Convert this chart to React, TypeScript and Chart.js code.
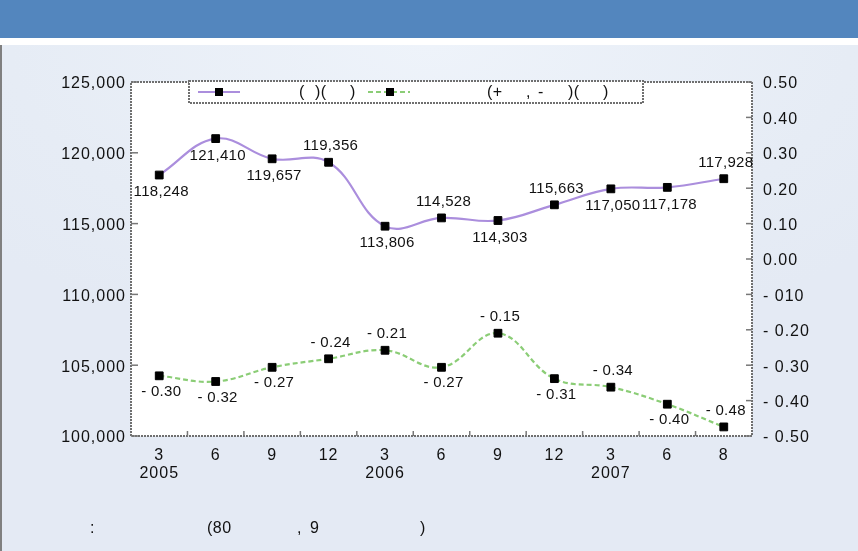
import React, { useEffect, useRef } from 'react';
import { Chart, registerables } from 'chart.js';

Chart.register(...registerables);

// ---- data ----
const monthLabels = ['3', '6', '9', '12', '3', '6', '9', '12', '3', '6', '8'];
const yearLabels = ['2005', '', '', '', '2006', '', '', '', '2007', '', ''];
const employedValues = [118248, 121410, 119657, 119356, 113806, 114528, 114303, 115663, 117050, 117178, 117928];
const growthValues = [-0.30, -0.32, -0.27, -0.24, -0.21, -0.27, -0.15, -0.31, -0.34, -0.40, -0.48];
const employedLabelSide = ['below', 'below', 'below', 'above', 'below', 'above', 'below', 'above', 'below', 'below', 'above'];
const growthLabelSide = ['below', 'below', 'below', 'above', 'above', 'below', 'above', 'below', 'above', 'below', 'above'];
const rightTickLabels = ['- 0.50', '- 0.40', '- 0.30', '- 0.20', '- 010', '0.00', '0.10', '0.20', '0.30', '0.40', '0.50'];
const legendFragments: [string, number][] = [['(', 299], [')(', 315], [')', 350], ['(+', 487], [',', 526], ['-', 538], [')(', 568], [')', 603]];
const noteFragments: [string, number][] = [[':', 90], ['(80', 207], [',', 297], ['9', 310], [')', 420]];

const FONT = "'Liberation Sans', Arial, sans-serif";
const EMP_COLOR = '#ab8edd';
const GROW_COLOR = '#8bcd76';

function fmtEmp(v: number) {
  return v.toLocaleString('en-US');
}
function fmtGrowth(v: number) {
  return (v < 0 ? '- ' : '') + Math.abs(v).toFixed(2);
}

const decor = {
  id: 'decor',
  beforeDraw(chart: any) {
    const { ctx, chartArea: a } = chart;
    ctx.save();
    ctx.fillStyle = '#ffffff';
    ctx.fillRect(a.left, a.top, a.right - a.left, a.bottom - a.top);
    ctx.restore();
    // axis labels: slightly spaced and nudged down to sit centred on their ticks
    ctx.save();
    ctx.translate(0, 2);
    ctx.letterSpacing = '1px';
  },
  beforeDatasetsDraw(chart: any) {
    chart.ctx.restore();
  },
  afterDatasetsDraw(chart: any) {
    const { ctx, chartArea: a, scales } = chart;
    ctx.save();
    ctx.strokeStyle = '#6f6f6f';
    ctx.lineWidth = 2;
    ctx.setLineDash([2, 1]);
    ctx.strokeRect(a.left, a.top, a.right - a.left, a.bottom - a.top);
    ctx.setLineDash([]);
    ctx.lineWidth = 1.5;
    ctx.strokeStyle = '#777';
    const yl = scales.y;
    yl.ticks.forEach((t: any) => {
      const y = yl.getPixelForValue(t.value);
      ctx.beginPath();
      ctx.moveTo(a.left, y);
      ctx.lineTo(a.left + 7, y);
      ctx.stroke();
    });
    const yr = scales.y2;
    yr.ticks.forEach((t: any) => {
      const y = yr.getPixelForValue(t.value);
      ctx.beginPath();
      ctx.moveTo(a.right - 6, y);
      ctx.lineTo(a.right, y);
      ctx.stroke();
    });
    const xs = scales.x;
    for (let i = 1; i < monthLabels.length; i++) {
      const x = (xs.getPixelForTick(i - 1) + xs.getPixelForTick(i)) / 2;
      ctx.beginPath();
      ctx.moveTo(x, a.bottom);
      ctx.lineTo(x, a.bottom - 5);
      ctx.stroke();
    }
    // data labels
    ctx.letterSpacing = '0.3px';
    ctx.fillStyle = '#111';
    ctx.font = `15px ${FONT}`;
    ctx.textAlign = 'center';
    ctx.textBaseline = 'middle';
    const m0 = chart.getDatasetMeta(0);
    m0.data.forEach((p: any, i: number) => {
      const dy = employedLabelSide[i] === 'above' ? -16 : 17;
      ctx.fillText(fmtEmp(employedValues[i]), p.x + 2, p.y + dy);
    });
    const m1 = chart.getDatasetMeta(1);
    m1.data.forEach((p: any, i: number) => {
      const dy = growthLabelSide[i] === 'above' ? -16 : 16;
      ctx.fillText(fmtGrowth(growthValues[i]), p.x + 2, p.y + dy);
    });
    ctx.restore();
  },
  afterDraw(chart: any) {
    const { ctx } = chart;
    ctx.save();
    ctx.letterSpacing = '0.5px';
    ctx.fillStyle = '#ffffff';
    ctx.fillRect(189, 81, 454, 22);
    ctx.strokeStyle = '#6f6f6f';
    ctx.lineWidth = 2;
    ctx.setLineDash([2, 1]);
    ctx.strokeRect(189, 81, 454, 22);
    ctx.setLineDash([]);
    const ly = 92;
    ctx.strokeStyle = EMP_COLOR;
    ctx.lineWidth = 2;
    ctx.beginPath();
    ctx.moveTo(198, ly);
    ctx.lineTo(240, ly);
    ctx.stroke();
    ctx.fillStyle = '#000';
    ctx.fillRect(215, ly - 4, 8, 8);
    ctx.strokeStyle = GROW_COLOR;
    ctx.setLineDash([5, 3]);
    ctx.beginPath();
    ctx.moveTo(368, ly);
    ctx.lineTo(410, ly);
    ctx.stroke();
    ctx.setLineDash([]);
    ctx.fillRect(386, ly - 4, 8, 8);
    ctx.fillStyle = '#111';
    ctx.font = `16px ${FONT}`;
    ctx.textAlign = 'left';
    ctx.textBaseline = 'middle';
    legendFragments.forEach(([t, x]) => ctx.fillText(t, x, ly + 1));
    noteFragments.forEach(([t, x]) => ctx.fillText(t, x, 529));
    ctx.restore();
  },
};

export default function App() {
  const ref = useRef<HTMLCanvasElement | null>(null);
  useEffect(() => {
    if (!ref.current) return;
    const point = {
      pointStyle: 'rect',
      pointRadius: 5.5,
      pointBackgroundColor: '#000',
      pointBorderColor: '#000',
      pointBorderWidth: 1,
    };
    const chart = new Chart(ref.current, {
      type: 'line',
      data: {
        labels: monthLabels.map((m, i) => (yearLabels[i] ? [m, yearLabels[i]] : m)),
        datasets: [
          {
            data: employedValues,
            yAxisID: 'yE',
            borderColor: EMP_COLOR,
            borderWidth: 2.2,
            tension: 0.4,
            ...point,
          },
          {
            data: growthValues,
            yAxisID: 'yG',
            borderColor: GROW_COLOR,
            borderWidth: 2.2,
            borderDash: [5, 3],
            tension: 0.4,
            ...point,
          },
        ],
      },
      options: {
        responsive: false,
        animation: false,
        layout: { padding: { top: 82, left: 0, right: 0, bottom: 0 } },
        plugins: { legend: { display: false }, tooltip: { enabled: false } },
        scales: {
          x: {
            type: 'category',
            offset: true,
            grid: { display: false, drawTicks: false },
            border: { display: false },
            ticks: {
              autoSkip: false,
              maxRotation: 0,
              padding: 8,
              color: '#111',
              font: { family: FONT, size: 16, lineHeight: 1.16 },
            },
            afterFit: (s: any) => {
              s.height = 115;
            },
          },
          y: {
            position: 'left',
            min: 100000,
            max: 125000,
            grid: { display: false, drawTicks: false },
            border: { display: false },
            ticks: {
              stepSize: 5000,
              padding: 5,
              color: '#111',
              font: { family: FONT, size: 16 },
              callback: (v: any) => fmtEmp(Number(v)),
            },
            afterFit: (s: any) => {
              s.width = 131;
            },
          },
          y2: {
            position: 'right',
            min: -0.5,
            max: 0.5,
            grid: { display: false, drawTicks: false },
            border: { display: false },
            ticks: {
              stepSize: 0.1,
              padding: 11,
              color: '#111',
              font: { family: FONT, size: 16 },
              callback: (v: any) => rightTickLabels[Math.round((Number(v) + 0.5) * 10)],
            },
            afterFit: (s: any) => {
              s.width = 106;
            },
          },
          yE: { display: false, min: 95602, max: 126322 },
          yG: { display: false, min: -0.512, max: 0.735 },
        },
      },
      plugins: [decor],
    } as any);
    return () => chart.destroy();
  }, []);

  return (
    <div style={{ position: 'fixed', left: 0, top: 0, width: 858, height: 551, overflow: 'hidden', background: '#fff' }}>
      <div style={{ position: 'absolute', left: 0, top: 0, width: 858, height: 38, background: '#5386be' }} />
      <div
        style={{
          position: 'absolute',
          left: 0,
          top: 45,
          width: 858,
          height: 506,
          background: 'radial-gradient(ellipse 70% 60% at 50% 0%, #eef3fa 0%, #e6ecf5 70%, #e4eaf4 100%)',
          borderLeft: '2px solid #808080',
          boxSizing: 'border-box',
        }}
      />
      <canvas ref={ref} width={858} height={551} style={{ position: 'absolute', left: 0, top: 0, width: 858, height: 551 }} />
    </div>
  );
}
